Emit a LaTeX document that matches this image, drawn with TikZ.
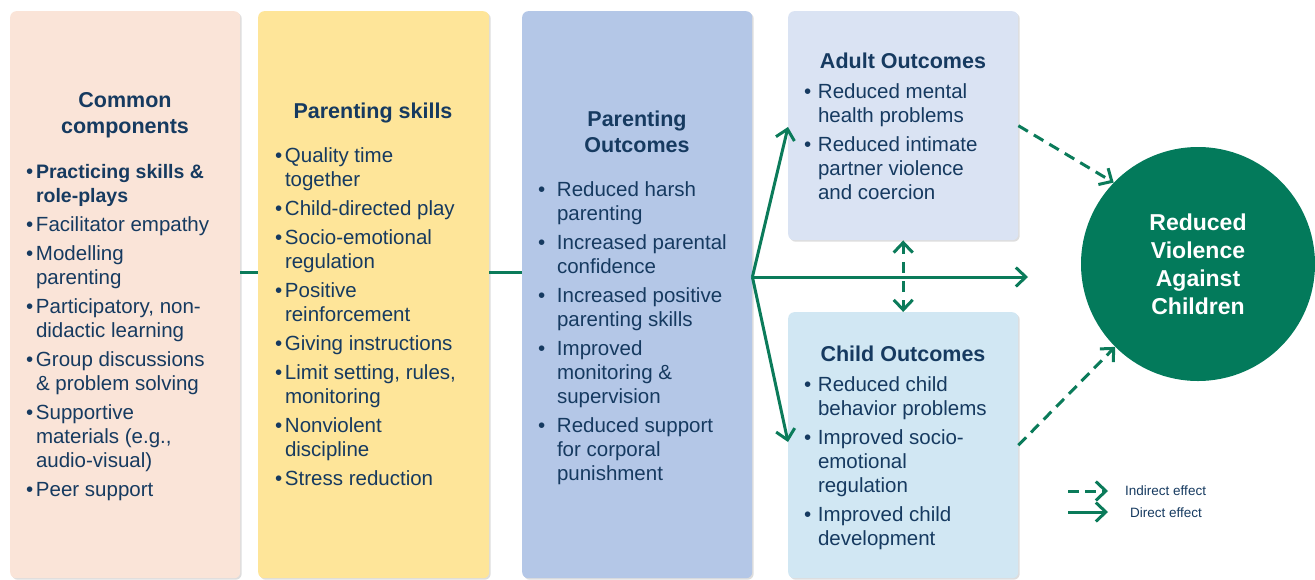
\documentclass[tikz,border=0pt]{standalone}
\usepackage{fontspec}
\setmainfont{Liberation Sans}
\usetikzlibrary{arrows.meta,shadows,calc}
\definecolor{navy}{HTML}{163A60}
\definecolor{cgreen}{HTML}{0B7B5A}
\definecolor{circgreen}{HTML}{037A5B}
\definecolor{cpeach}{HTML}{FAE4D8}
\definecolor{cyellow}{HTML}{FEE599}
\definecolor{cblue}{HTML}{B4C7E7}
\definecolor{cpale}{HTML}{DAE3F3}
\definecolor{csky}{HTML}{D1E7F3}
\newcommand{\myitem}[2]{\par\hangindent=#1\hangafter=1\noindent\hbox to #1{\textbullet\hss}#2}
\newcommand{\mylist}[2]{\vtop{\hsize=#1\parindent=0pt\parskip=5pt\rightskip=0pt plus 1fil\relax\fontsize{20.5}{24}\selectfont #2\par}}
\newcommand{\mytitle}[1]{\vtop{\hsize=230pt\parindent=0pt\parskip=0pt\centering\fontsize{21.5}{26}\selectfont\bfseries #1\par}}
\begin{document}
\begin{tikzpicture}[x=1pt,y=-1pt,
  box/.style={rectangle, rounded corners=6pt, draw=none, inner sep=0pt, anchor=north west,
    drop shadow={shadow xshift=1.5pt, shadow yshift=-1.5pt, opacity=0.22, fill=black!60}},
  txt/.style={inner sep=0pt, outer sep=0pt, text=navy, anchor=base west},
  conn/.style={draw=cgreen, line width=3pt},
  tip/.tip={Straight Barb[length=10pt,width=19pt,line width=3pt]},
  arr/.style={conn, -tip},
  dasharr/.style={conn, -tip, dash pattern=on 11pt off 7pt}
]
\useasboundingbox (0,0) rectangle (1315,579);

% boxes
\node[box, fill=cpeach, minimum width=230pt, minimum height=567pt] (cc) at (10,11) {};
\node[box, fill=cyellow, minimum width=231pt, minimum height=567pt] (ps) at (258,11) {};
\node[box, fill=cblue, minimum width=230pt, minimum height=567pt] (po) at (522,11) {};
\node[box, fill=cpale, minimum width=230pt, minimum height=229pt] (ao) at (788,11) {};
\node[box, fill=csky, minimum width=230pt, minimum height=266pt] (co) at (788,312) {};
\node[circle, fill=circgreen, draw=none, minimum size=234pt, inner sep=0pt, text=white, align=center,
  font=\fontsize{23}{28}\selectfont\bfseries] (vac) at (1198,264) {Reduced\\Violence\\Against\\Children};

% titles
\node[txt] (t1) at (10,107) {\mytitle{Common\\components}};
\node[txt] (t2) at (258,118) {\mytitle{Parenting skills}};
\node[txt] (t3) at (522,126) {\mytitle{Parenting\\Outcomes}};
\node[txt] (t4) at (788,68) {\mytitle{Adult Outcomes}};
\node[txt] (t5) at (788,361) {\mytitle{Child Outcomes}};

% lists
\node[txt] (l1) at (26,178) {\mylist{210pt}{%
\myitem{10pt}{{\fontsize{19.5}{24}\selectfont\bfseries Practicing skills \&\newline role-plays}}
\myitem{10pt}{Facilitator empathy}
\myitem{10pt}{Modelling\newline parenting}
\myitem{10pt}{Participatory, non-\newline didactic learning}
\myitem{10pt}{Group discussions\newline \& problem solving}
\myitem{10pt}{Supportive\newline materials (e.g.,\newline audio-visual)}
\myitem{10pt}{Peer support}}};

\node[txt] (l2) at (275,162) {\mylist{210pt}{%
\myitem{10pt}{Quality time\newline together}
\myitem{10pt}{Child-directed play}
\myitem{10pt}{Socio-emotional\newline regulation}
\myitem{10pt}{Positive\newline reinforcement}
\myitem{10pt}{Giving instructions}
\myitem{10pt}{Limit setting, rules,\newline monitoring}
\myitem{10pt}{Nonviolent\newline discipline}
\myitem{10pt}{Stress reduction}}};

\node[txt] (l3) at (538,196) {\mylist{210pt}{%
\myitem{19pt}{Reduced harsh\newline parenting}
\myitem{19pt}{Increased parental\newline confidence}
\myitem{19pt}{Increased positive\newline parenting skills}
\myitem{19pt}{Improved\newline monitoring \&\newline supervision}
\myitem{19pt}{Reduced support\newline for corporal\newline punishment}}};

\node[txt] (l4) at (804,98) {\mylist{210pt}{%
\myitem{14pt}{Reduced mental\newline health problems}
\myitem{14pt}{Reduced intimate\newline partner violence\newline and coercion}}};

\node[txt] (l5) at (804,391) {\mylist{210pt}{%
\myitem{14pt}{Reduced child\newline behavior problems}
\myitem{14pt}{Improved socio-\newline emotional\newline regulation}
\myitem{14pt}{Improved child\newline development}}};

% connectors
\coordinate (midA) at (0,272);
\coordinate (fan) at (0,277);
\coordinate (upT) at (0,127);
\coordinate (loT) at (0,442);
\coordinate (rightT) at (1028,277);
\draw[conn] (cc.east |- midA) -- (ps.west |- midA);
\draw[conn] (ps.east |- midA) -- (po.west |- midA);
\draw[arr] (po.east |- fan) -- (ao.west |- upT);
\draw[arr] (po.east |- fan) -- (co.west |- loT);
\draw[arr] (po.east |- fan) -- (rightT);
\draw[conn, tip-tip, dash pattern=on 11pt off 8pt, dash phase=1pt] (ao.south) -- (co.north);
\draw[dasharr] (ao.east) -- (vac.136);
\draw[dasharr] (co.east) -- (vac.225);

% legend
\coordinate (lgIs) at (1068,491);
\coordinate (lgIe) at (1108,491);
\coordinate (lgDs) at (1068,512);
\coordinate (lgDe) at (1108,512);
\draw[conn, -tip, dash pattern=on 11pt off 6pt] (lgIs) -- (lgIe);
\draw[arr] (lgDs) -- (lgDe);
\node[inner sep=0pt, text=navy, anchor=west, font=\fontsize{13.5}{16}\selectfont] (lgI) at (1125,491) {Indirect effect};
\node[inner sep=0pt, text=navy, anchor=west, font=\fontsize{13.5}{16}\selectfont] (lgD) at (1130,513) {Direct effect};
\end{tikzpicture}
\end{document}
